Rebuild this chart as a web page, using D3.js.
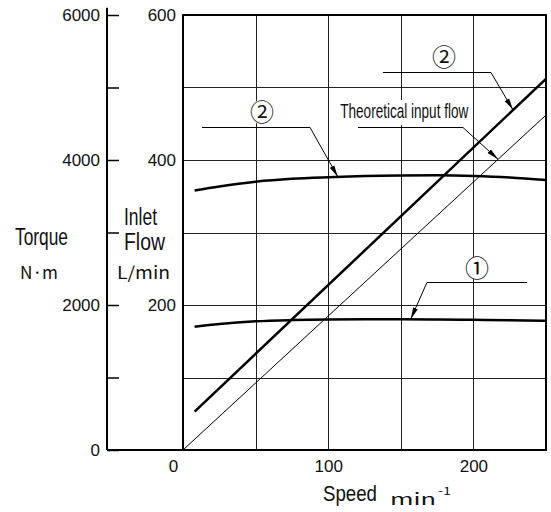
<!DOCTYPE html>
<html>
<head>
<meta charset="utf-8">
<script src="https://cdn.jsdelivr.net/npm/d3@7"></script>
<style>
  body { margin: 0; background: #fff; }
  text { font-family: "Liberation Sans", Arial, sans-serif; fill: #111; }
  .gothic { font-family: "Noto Sans CJK JP", "DejaVu Sans Mono", monospace; }
</style>
</head>
<body>
<svg width="551" height="512"></svg>
<script>
// curve data
var speeds  = [8, 25, 50, 75, 100, 125, 150, 175, 200, 225, 250];
var torque1 = [1700, 1738, 1775, 1792, 1800, 1803, 1803, 1800, 1795, 1790, 1783];
var torque2 = [3580, 3635, 3700, 3740, 3762, 3778, 3785, 3788, 3780, 3760, 3725];

var flowSpeeds = [8, 250];
var flow2      = [53, 512];
var theoSpeeds = [0, 250];
var theoFlow   = [0, 462];

// ticks
var speedTicks   = [0, 100, 200];
var speedGrid    = [50, 100, 150, 200];
var flowTicks    = [200, 400, 600];
var flowGrid     = [100, 200, 300, 400, 500];
var torqueTicks  = [0, 1000, 2000, 3000, 4000, 5000, 6000];
var torqueLabels = [0, 2000, 4000, 6000];

var svg = d3.select("svg");

var x = d3.scaleLinear().domain([0, 250]).range([183, 546]);
var yFlow = d3.scaleLinear().domain([0, 600]).range([450, 15]);
var yTorque = d3.scaleLinear().domain([0, 6000]).range([450, 15]);

// arrow marker
svg.append("defs").append("marker")
    .attr("id", "arr")
    .attr("markerUnits", "userSpaceOnUse")
    .attr("markerWidth", 12).attr("markerHeight", 6)
    .attr("refX", 12).attr("refY", 3)
    .attr("orient", "auto")
  .append("path")
    .attr("d", "M0,0.5L12,3L0,5.5Z")
    .attr("fill", "#000");

// grid
var grid = svg.append("g").attr("stroke", "#222").attr("stroke-width", 1);
grid.selectAll(".vg").data(speedGrid).enter().append("line")
    .attr("x1", function(d) { return Math.round(x(d)) + 0.5; })
    .attr("x2", function(d) { return Math.round(x(d)) + 0.5; })
    .attr("y1", yFlow(600)).attr("y2", yFlow(0));
grid.selectAll(".hg").data(flowGrid).enter().append("line")
    .attr("y1", function(d) { return Math.round(yFlow(d)) + 0.5; })
    .attr("y2", function(d) { return Math.round(yFlow(d)) + 0.5; })
    .attr("x1", x(0)).attr("x2", x(250));

// frame
svg.append("rect")
    .attr("x", x(0)).attr("y", yFlow(600))
    .attr("width", x(250) - x(0)).attr("height", yFlow(0) - yFlow(600))
    .attr("fill", "none").attr("stroke", "#000").attr("stroke-width", 2);

// torque axis (far left)
var torqueX = 107;
svg.append("line")
    .attr("x1", torqueX).attr("x2", torqueX)
    .attr("y1", yTorque(6100)).attr("y2", yTorque(0))
    .attr("stroke", "#000").attr("stroke-width", 2);
svg.append("line")
    .attr("x1", torqueX).attr("x2", x(0))
    .attr("y1", yTorque(0)).attr("y2", yTorque(0))
    .attr("stroke", "#000").attr("stroke-width", 2);

var torqueAxis = svg.append("g")
    .attr("transform", "translate(" + torqueX + ",0)")
    .call(d3.axisLeft(yTorque).tickValues(torqueTicks)
        .tickSizeInner(-12).tickSizeOuter(0).tickPadding(7)
        .tickFormat(function(d) { return torqueLabels.indexOf(d) >= 0 ? d : ""; }));
torqueAxis.select(".domain").remove();
torqueAxis.selectAll("line").attr("stroke", "#000").attr("stroke-width", 1.5);
torqueAxis.selectAll("text").attr("font-size", 17).attr("fill", "#111")
    .attr("font-family", "Liberation Sans, Arial, sans-serif");

// flow axis labels
var flowAxis = svg.append("g")
    .attr("transform", "translate(" + x(0) + ",0)")
    .call(d3.axisLeft(yFlow).tickValues(flowTicks).tickSize(0).tickPadding(7));
flowAxis.select(".domain").remove();
flowAxis.selectAll("text").attr("font-size", 17).attr("fill", "#111")
    .attr("font-family", "Liberation Sans, Arial, sans-serif");

// speed axis labels
var speedAxis = svg.append("g")
    .attr("transform", "translate(0," + yFlow(0) + ")")
    .call(d3.axisBottom(x).tickValues(speedTicks).tickSize(0).tickPadding(10));
speedAxis.select(".domain").remove();
speedAxis.selectAll("text").attr("font-size", 17).attr("fill", "#111")
    .attr("font-family", "Liberation Sans, Arial, sans-serif")
    .attr("dx", function(d) { return d === 0 ? -10 : 0; });

// curves
var torqueLine = d3.line()
    .x(function(d, i) { return x(speeds[i]); })
    .y(function(d) { return yTorque(d); })
    .curve(d3.curveMonotoneX);

svg.append("path").datum(torque2).attr("d", torqueLine)
    .attr("fill", "none").attr("stroke", "#000").attr("stroke-width", 2.5);
svg.append("path").datum(torque1).attr("d", torqueLine)
    .attr("fill", "none").attr("stroke", "#000").attr("stroke-width", 2.5);

var flowLine = function(sp) {
    return d3.line()
        .x(function(d, i) { return x(sp[i]); })
        .y(function(d) { return yFlow(d); });
};
svg.append("path").datum(flow2).attr("d", flowLine(flowSpeeds))
    .attr("fill", "none").attr("stroke", "#000").attr("stroke-width", 2.5);
svg.append("path").datum(theoFlow).attr("d", flowLine(theoSpeeds))
    .attr("fill", "none").attr("stroke", "#000").attr("stroke-width", 1);

// annotations (positions in data units)
function interp(sp, vals, s) {
    for (var i = 0; i < sp.length - 1; i++) {
        if (s >= sp[i] && s <= sp[i + 1]) {
            var t = (s - sp[i]) / (sp[i + 1] - sp[i]);
            return vals[i] + t * (vals[i + 1] - vals[i]);
        }
    }
    return vals[vals.length - 1];
}

// leader goes from -> elbow -> tip on the curve
var notes = [
    {text: "②", circled: true, tx: 179.8, ty: 542, from: 137.7, elbow: 212.1, lv: 521.8,
     tip: 227.3, sp: flowSpeeds, vals: flow2, scale: yFlow},
    {text: "Theoretical input flow", circled: false, tx: 108.3, ty: 458, from: 120.5, elbow: 192.8, lv: 445.5,
     tip: 217, sp: theoSpeeds, vals: theoFlow, scale: yFlow},
    {text: "②", circled: true, tx: 54.4, ty: 466, from: 13.1, elbow: 87.5, lv: 445.5,
     tip: 106.7, sp: speeds, vals: torque2, scale: yTorque},
    {text: "①", circled: true, tx: 202.5, ty: 251, from: 237, elbow: 168, lv: 231.7,
     tip: 156.8, sp: speeds, vals: torque1, scale: yTorque}
];

notes.forEach(function(n) {
    var ly = Math.round(yFlow(n.lv)) + 0.5;
    var tipY = n.scale(interp(n.sp, n.vals, n.tip));
    svg.append("path")
        .attr("d", "M" + x(n.from) + "," + ly + "L" + x(n.elbow) + "," + ly + "L" + x(n.tip) + "," + tipY)
        .attr("fill", "none").attr("stroke", "#000").attr("stroke-width", 1)
        .attr("marker-end", "url(#arr)");

    if (n.circled) {
        var cx = x(n.tx), cy = yFlow(n.ty);
        svg.append("rect").attr("x", cx - 11).attr("y", cy - 11)
            .attr("width", 22).attr("height", 22).attr("fill", "#fff");
        svg.append("text").attr("class", "gothic")
            .attr("x", cx).attr("y", cy).attr("dy", "0.36em")
            .attr("text-anchor", "middle").attr("font-size", 24)
            .text(n.text);
    } else {
        var tx = x(n.tx), ty = yFlow(n.ty);
        svg.append("rect").attr("x", tx - 2).attr("y", ty - 18)
            .attr("width", 132).attr("height", 25).attr("fill", "#fff");
        svg.append("text")
            .attr("x", tx).attr("y", ty).attr("font-size", 21)
            .attr("textLength", 128).attr("lengthAdjust", "spacingAndGlyphs")
            .text(n.text);
    }
});

// axis titles
function title(str, px, py, size, len, cls) {
    var t = svg.append("text").attr("x", px).attr("y", py)
        .attr("font-size", size)
        .attr("textLength", len).attr("lengthAdjust", "spacingAndGlyphs")
        .text(str);
    if (cls) t.attr("class", cls);
    return t;
}
title("Torque", 15, 245, 23, 53);
title("N·m", 20, 279, 17, 38, "gothic");
title("Inlet", 124, 225, 23, 33);
title("Flow", 124, 250, 23, 41);
title("L/min", 117, 279, 17, 53, "gothic");
title("Speed", 323, 501, 22, 54);
title("min", 390, 505, 16, 46, "gothic");
title("-1", 438, 495, 11, 13, "gothic");
</script>
</body>
</html>
